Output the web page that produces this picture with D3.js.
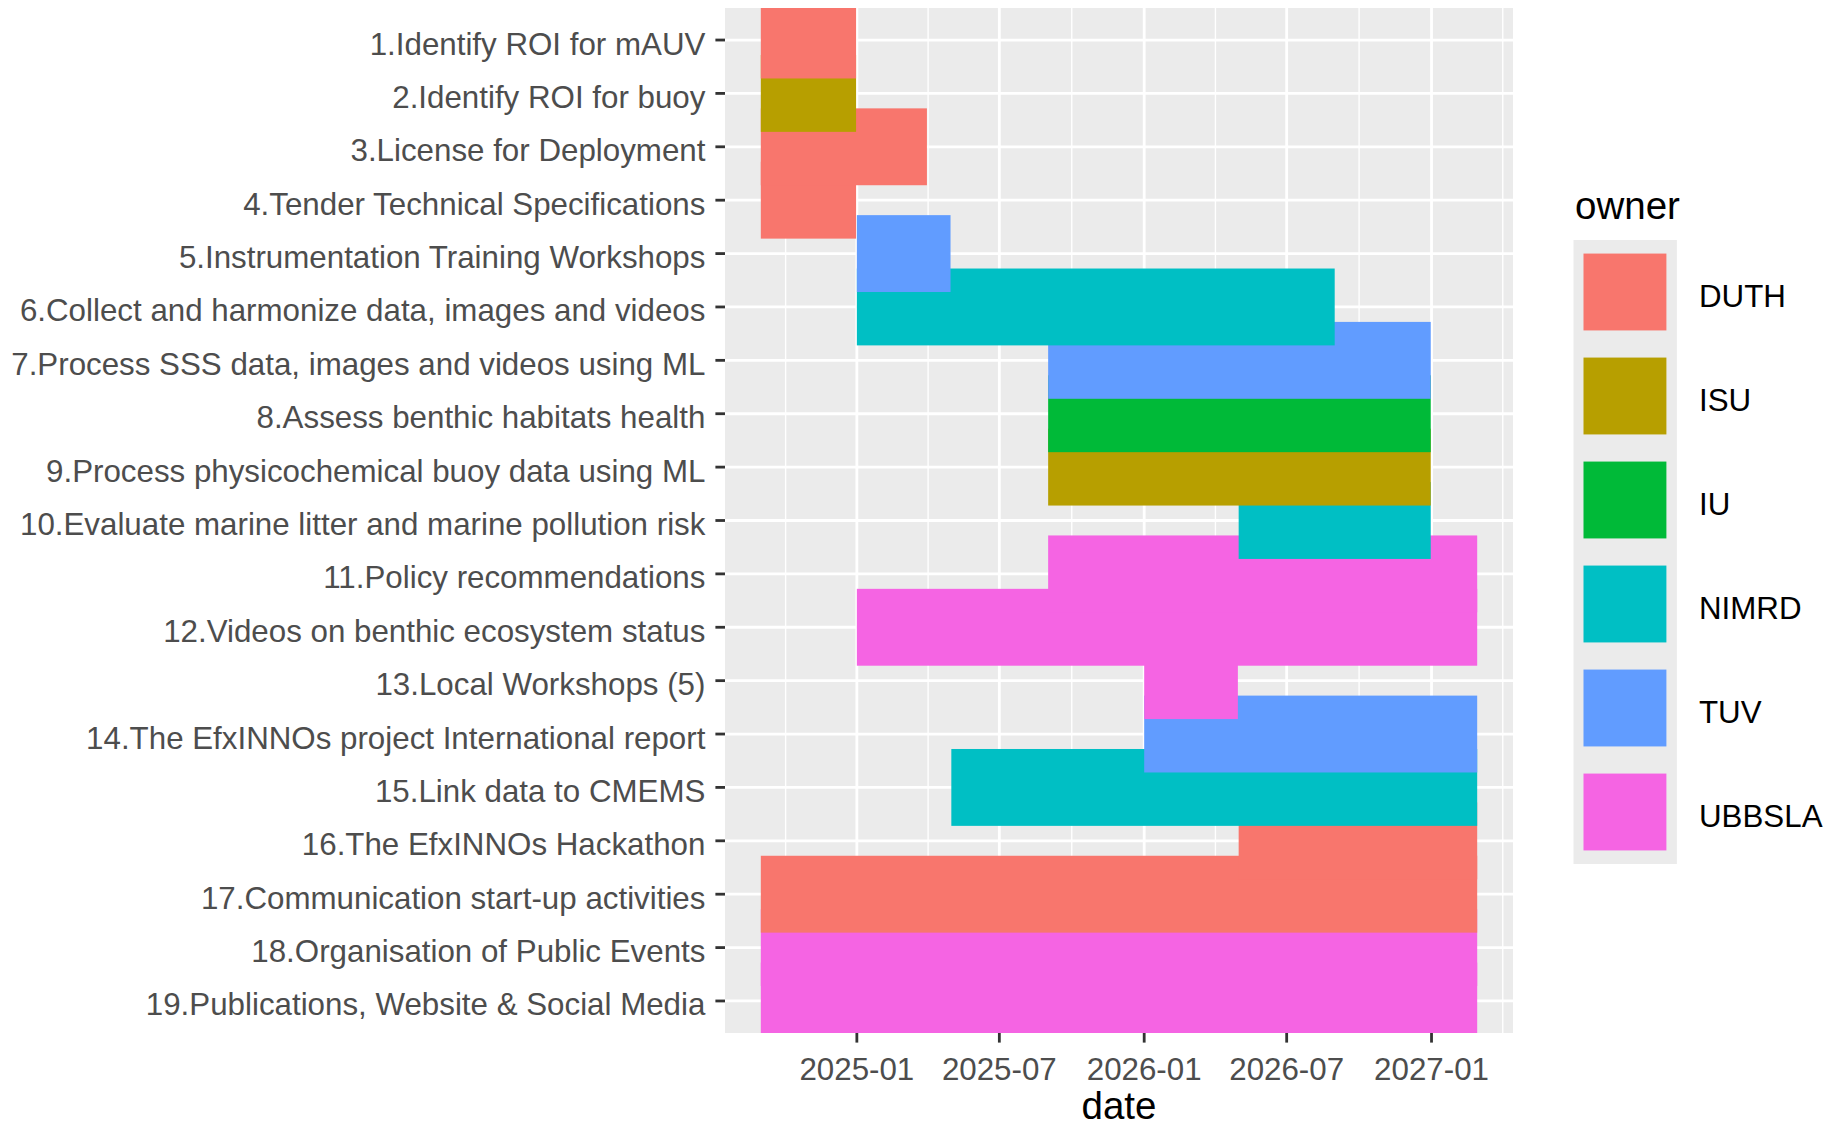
<!DOCTYPE html>
<html>
<head>
<meta charset="utf-8">
<script src="https://cdn.jsdelivr.net/npm/d3@7"></script>
<style>
  html, body { margin: 0; padding: 0; background: #fff; }
  svg { display: block; font-family: "Liberation Sans", Arial, sans-serif; }
</style>
</head>
<body>
<div id="chart"></div>
<script>
// Gantt chart data: one entry per task, top to bottom
const TASKS = [
  '1.Identify ROI for mAUV',
  '2.Identify ROI for buoy',
  '3.License for Deployment',
  '4.Tender Technical Specifications',
  '5.Instrumentation Training Workshops',
  '6.Collect and harmonize data, images and videos',
  '7.Process SSS data, images and videos using ML',
  '8.Assess benthic habitats health',
  '9.Process physicochemical buoy data using ML',
  '10.Evaluate marine litter and marine pollution risk',
  '11.Policy recommendations',
  '12.Videos on benthic ecosystem status',
  '13.Local Workshops (5)',
  '14.The EfxINNOs project International report',
  '15.Link data to CMEMS',
  '16.The EfxINNOs Hackathon',
  '17.Communication start-up activities',
  '18.Organisation of Public Events',
  '19.Publications, Website & Social Media'
];
const OWNER = [
  'DUTH', 'ISU', 'DUTH', 'DUTH', 'TUV', 'NIMRD', 'TUV', 'IU', 'ISU', 'NIMRD',
  'UBBSLA', 'UBBSLA', 'UBBSLA', 'TUV', 'NIMRD', 'DUTH', 'DUTH', 'UBBSLA', 'UBBSLA'
];
const START = [
  '2024-09-01', '2024-09-01', '2024-09-01', '2024-09-01', '2025-01-01',
  '2025-01-01', '2025-09-01', '2025-09-01', '2025-09-01', '2026-05-01',
  '2025-09-01', '2025-01-01', '2026-01-01', '2026-01-01', '2025-05-01',
  '2026-05-01', '2024-09-01', '2024-09-01', '2024-09-01'
];
const END = [
  '2024-12-31', '2024-12-31', '2025-03-31', '2024-12-31', '2025-04-30',
  '2026-08-31', '2026-12-31', '2026-12-31', '2026-12-31', '2026-12-31',
  '2027-02-28', '2027-02-28', '2026-04-30', '2027-02-28', '2027-02-28',
  '2027-02-28', '2027-02-28', '2027-02-28', '2027-02-28'
];
const OWNERS = ['DUTH', 'ISU', 'IU', 'NIMRD', 'TUV', 'UBBSLA'];
const OWNER_COLORS = ['#F8766D', '#B79F00', '#00BA38', '#00BFC4', '#619CFF', '#F564E3'];
const X_BREAKS = ['2025-01-01', '2025-07-01', '2026-01-01', '2026-07-01', '2027-01-01'];
const X_LABELS = ['2025-01', '2025-07', '2026-01', '2026-07', '2027-01'];

(function () {
  'use strict';

  const W = 1839, H = 1127;
  const panel = { left: 725, right: 1513, top: 8, bottom: 1033 };
  const AXIS_TXT = '#4D4D4D', TICK = '#333333', PANEL_BG = '#EBEBEB';
  const FS = 31.3, FS_TITLE = 38.5;

  const parse = d3.utcParse('%Y-%m-%d');
  const rows = TASKS.map((t, i) => ({
    task: t, owner: OWNER[i], start: parse(START[i]), end: parse(END[i])
  }));

  // ggplot-style 5% expansion on the date range
  const minD = d3.min(rows, d => d.start), maxD = d3.max(rows, d => d.end);
  const pad = (maxD - minD) * 0.05;
  const x = d3.scaleUtc()
    .domain([new Date(+minD - pad), new Date(+maxD + pad)])
    .range([panel.left, panel.right]);

  const y = d3.scalePoint().domain(TASKS)
    .range([panel.top, panel.bottom]).padding(0.6);
  const barH = y.step() * 1.44;

  const color = d3.scaleOrdinal().domain(OWNERS).range(OWNER_COLORS);

  const svg = d3.select('#chart').append('svg')
    .attr('width', W).attr('height', H)
    .attr('viewBox', `0 0 ${W} ${H}`);

  svg.append('defs').append('clipPath').attr('id', 'panel-clip')
    .append('rect')
    .attr('x', panel.left).attr('y', panel.top)
    .attr('width', panel.right - panel.left)
    .attr('height', panel.bottom - panel.top);

  // Panel background
  svg.append('rect')
    .attr('x', panel.left).attr('y', panel.top)
    .attr('width', panel.right - panel.left)
    .attr('height', panel.bottom - panel.top)
    .attr('fill', PANEL_BG);

  const grid = svg.append('g').attr('clip-path', 'url(#panel-clip)');

  // Minor vertical grid: midpoints between major breaks
  const majors = X_BREAKS.map(parse);
  const step = majors[1] - majors[0];
  const ext = [new Date(+majors[0] - step)].concat(majors, [new Date(+majors[majors.length - 1] + step)]);
  const minors = d3.pairs(ext).map(([a, b]) => new Date((+a + +b) / 2))
    .filter(d => x(d) >= panel.left && x(d) <= panel.right);

  grid.selectAll('line.minor').data(minors).join('line')
    .attr('x1', d => x(d)).attr('x2', d => x(d))
    .attr('y1', panel.top).attr('y2', panel.bottom)
    .attr('stroke', '#fff').attr('stroke-width', 1.4);

  grid.selectAll('line.vmajor').data(majors).join('line')
    .attr('x1', d => x(d)).attr('x2', d => x(d))
    .attr('y1', panel.top).attr('y2', panel.bottom)
    .attr('stroke', '#fff').attr('stroke-width', 2.8);

  grid.selectAll('line.hmajor').data(TASKS).join('line')
    .attr('x1', panel.left).attr('x2', panel.right)
    .attr('y1', d => y(d)).attr('y2', d => y(d))
    .attr('stroke', '#fff').attr('stroke-width', 2.8);

  // Bars: drawn bottom row first so upper rows sit on top (as in the source)
  const bars = svg.append('g').attr('clip-path', 'url(#panel-clip)');
  bars.selectAll('rect').data(rows.slice().reverse()).join('rect')
    .attr('x', d => x(d.start))
    .attr('y', d => y(d.task) - barH / 2)
    .attr('width', d => x(d.end) - x(d.start))
    .attr('height', barH)
    .attr('fill', d => color(d.owner));

  // Y axis: ticks and labels
  const yAx = svg.append('g');
  yAx.selectAll('line').data(TASKS).join('line')
    .attr('x1', panel.left - 9.6).attr('x2', panel.left)
    .attr('y1', d => y(d)).attr('y2', d => y(d))
    .attr('stroke', TICK).attr('stroke-width', 2.8);
  yAx.selectAll('text').data(TASKS).join('text')
    .attr('x', panel.left - 9.6 - 10)
    .attr('y', d => y(d) + 14.5)
    .attr('text-anchor', 'end')
    .attr('fill', AXIS_TXT).attr('font-size', FS)
    .text(d => d);

  // X axis: ticks and labels
  const xAx = svg.append('g');
  xAx.selectAll('line').data(majors).join('line')
    .attr('x1', d => x(d)).attr('x2', d => x(d))
    .attr('y1', panel.bottom).attr('y2', panel.bottom + 9.6)
    .attr('stroke', TICK).attr('stroke-width', 2.8);
  xAx.selectAll('text').data(majors).join('text')
    .attr('x', d => x(d))
    .attr('y', 1080)
    .attr('text-anchor', 'middle')
    .attr('fill', AXIS_TXT).attr('font-size', FS)
    .text((d, i) => X_LABELS[i]);

  svg.append('text')
    .attr('x', (panel.left + panel.right) / 2).attr('y', 1119)
    .attr('text-anchor', 'middle')
    .attr('fill', '#000').attr('font-size', FS_TITLE)
    .text('date');

  // Legend
  const lg = { x: 1573.5, y: 240, keyW: 103.4, keyH: 104 };
  svg.append('text')
    .attr('x', 1575).attr('y', 219)
    .attr('fill', '#000').attr('font-size', FS_TITLE)
    .text('owner');

  svg.append('rect')
    .attr('x', lg.x).attr('y', lg.y)
    .attr('width', lg.keyW).attr('height', lg.keyH * OWNERS.length)
    .attr('fill', PANEL_BG);

  const keys = svg.append('g').selectAll('g').data(OWNERS).join('g')
    .attr('transform', (d, i) => `translate(${lg.x},${lg.y + i * lg.keyH})`);
  keys.append('rect')
    .attr('x', 10).attr('y', (lg.keyH - barH) / 2)
    .attr('width', lg.keyW - 20.5).attr('height', barH)
    .attr('fill', d => color(d));
  keys.append('text')
    .attr('x', 1699 - lg.x).attr('y', lg.keyH / 2 + 14.5)
    .attr('fill', '#000').attr('font-size', FS)
    .text(d => d);
})();
</script>
</body>
</html>
